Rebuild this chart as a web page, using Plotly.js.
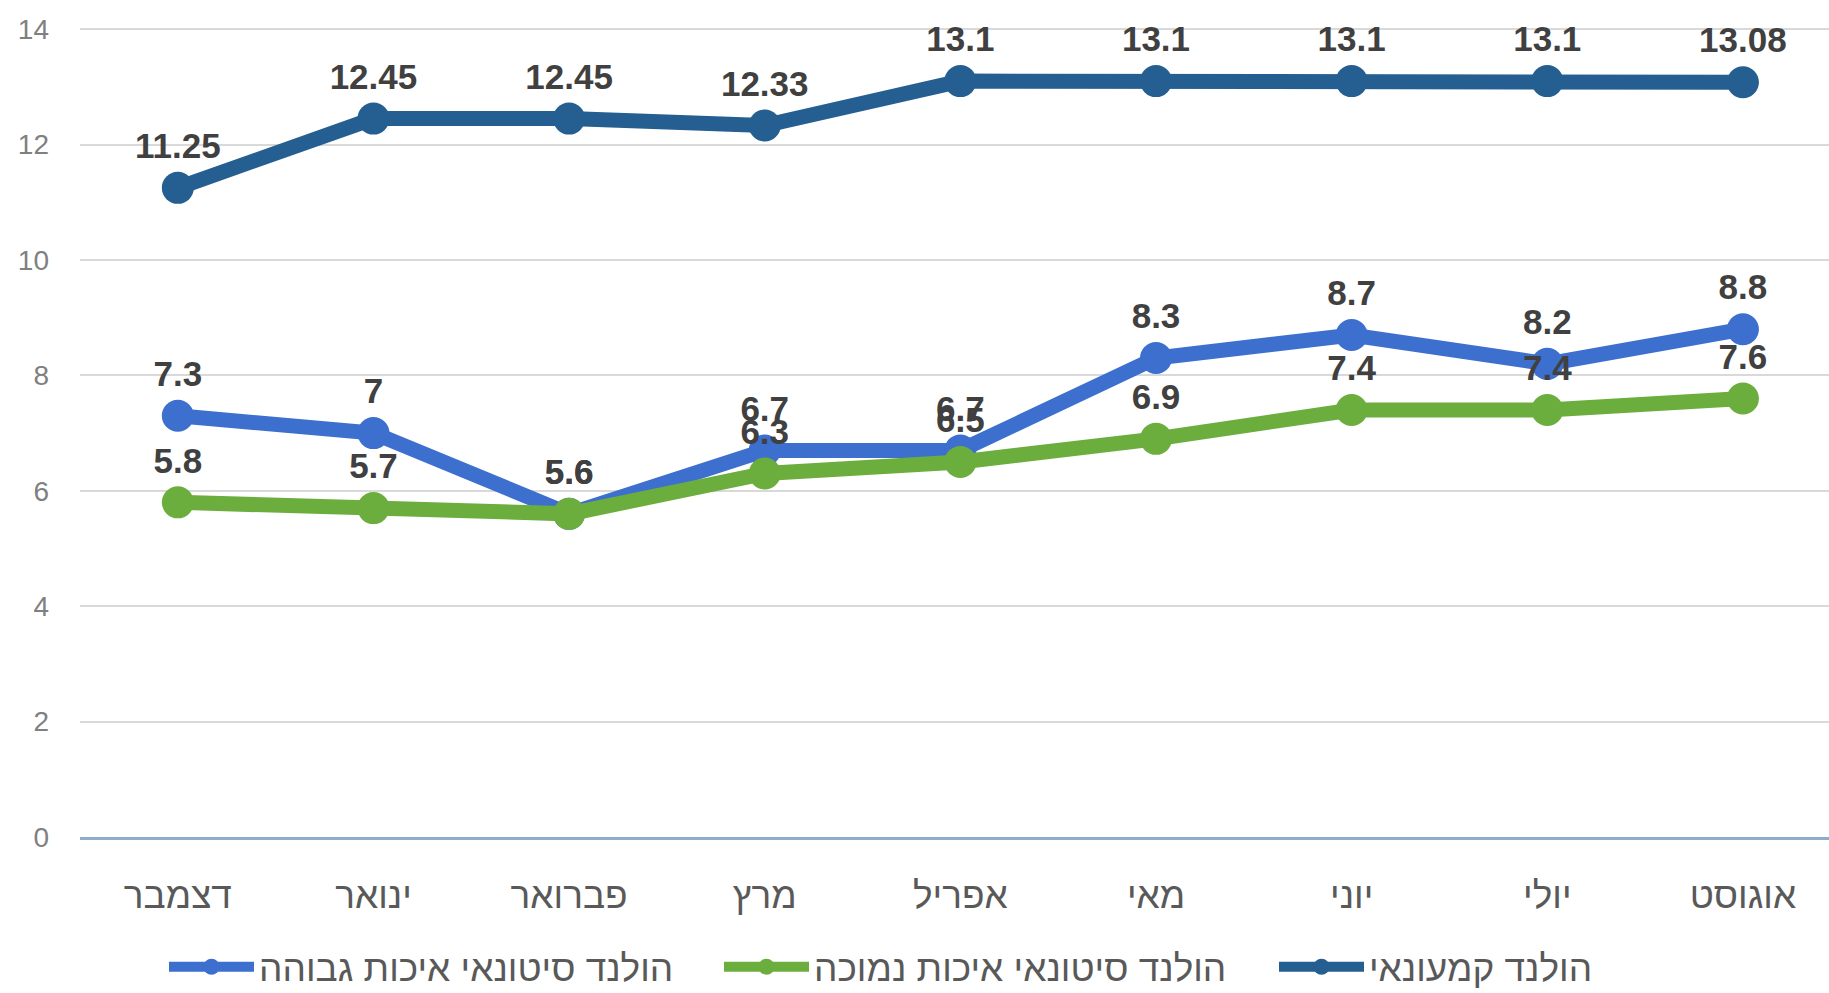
<!DOCTYPE html>
<html><head><meta charset="utf-8">
<script src="https://cdn.plot.ly/plotly-3.0.1.min.js"></script>
<style>html,body{margin:0;padding:0;background:#fff}#chart{width:1829px;height:993px}</style>
</head><body><div id="chart"></div>
<script>
const months = ['דצמבר','ינואר','פברואר','מרץ','אפריל','מאי','יוני','יולי','אוגוסט'];
const retail = [11.25,12.45,12.45,12.33,13.1,13.1,13.1,13.1,13.08];
const wholesaleHigh = [7.3,7,5.6,6.7,6.7,8.3,8.7,8.2,8.8];
const wholesaleLow = [5.8,5.7,5.6,6.3,6.5,6.9,7.4,7.4,7.6];
const seriesNames = ['הולנד סיטונאי איכות גבוהה','הולנד סיטונאי איכות נמוכה','הולנד קמעונאי'];
const yTicks = [0,2,4,6,8,10,12,14];

const colors = ['#3D6FCF','#6CAE3E','#255E91'];
const seriesValues = [wholesaleHigh, wholesaleLow, retail];

const traces = seriesValues.map((vals, i) => ({
  type: 'scatter',
  mode: 'lines+markers+text',
  name: seriesNames[i],
  x: months,
  y: vals,
  text: vals.map(v => String(v)),
  textposition: 'top center',
  textfont: {family: 'Liberation Sans, Arial, sans-serif', size: 35, color: '#404040', weight: 'bold'},
  line: {color: colors[i], width: 15},
  marker: {color: colors[i], size: 32},
  cliponaxis: false
}));

const layout = {
  width: 1829, height: 993,
  paper_bgcolor: '#fff', plot_bgcolor: '#fff',
  margin: {l: 80, r: 0, t: 28, b: 156},
  showlegend: true,
  legend: {
    orientation: 'h', xref: 'paper', x: 0.052, xanchor: 'left',
    yref: 'container', y: 0.026, yanchor: 'middle',
    font: {family: 'Liberation Sans, Arial, sans-serif', size: 37, color: '#595959'},
    entrywidth: 455, itemwidth: 85
  },
  xaxis: {
    type: 'category', range: [-0.5, 8.44],
    showgrid: false, showline: true, linecolor: '#8EACCB', linewidth: 3,
    ticks: '', ticklabelstandoff: 24,
    tickfont: {family: 'Liberation Sans, Arial, sans-serif', size: 37, color: '#595959'}
  },
  yaxis: {
    range: [0, 14.02], tickvals: yTicks, ticktext: yTicks.map(String),
    showgrid: true, gridcolor: '#D9D9D9', gridwidth: 2, zeroline: false,
    showline: false, ticks: '', ticklabelstandoff: 30,
    tickfont: {family: 'Liberation Sans, Arial, sans-serif', size: 28, color: '#808080'}
  }
};

Plotly.newPlot('chart', traces, layout, {displayModeBar: false, responsive: false});
</script>
</body></html>
